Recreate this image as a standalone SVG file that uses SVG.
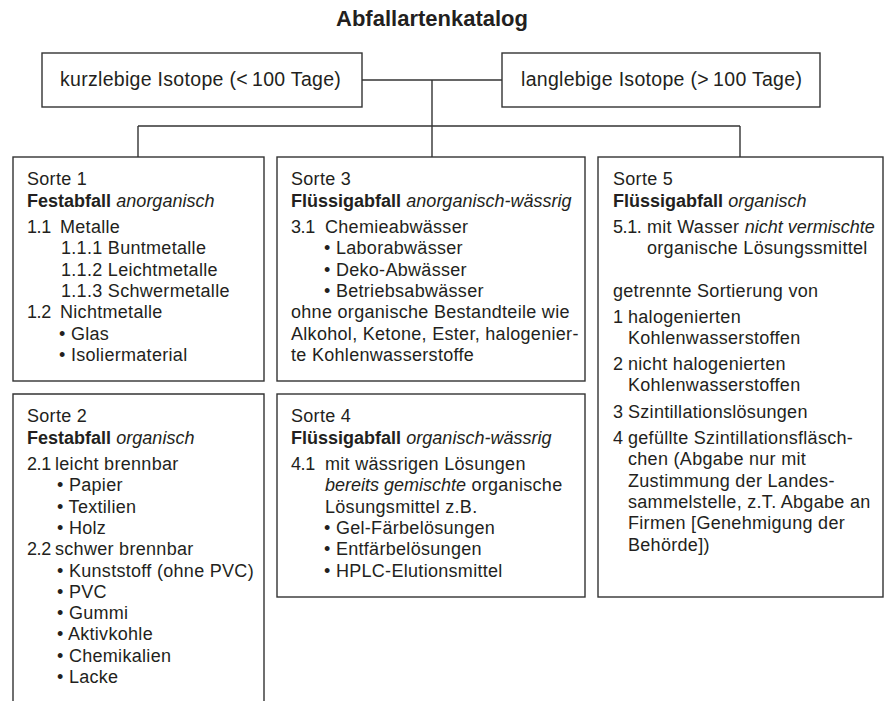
<svg xmlns="http://www.w3.org/2000/svg" width="887" height="701" viewBox="0 0 887 701">
<style>
text{font-family:"Liberation Sans",Arial,Helvetica,sans-serif;fill:#231f20;}
.t{font-size:18px;letter-spacing:0.3px;}
.h{font-size:19.5px;letter-spacing:0.3px;}
.title{font-size:22px;font-weight:bold;}
.b{font-weight:bold;letter-spacing:0;}
.i{font-style:italic;letter-spacing:0;}
.n{letter-spacing:-0.4px;}
.box{fill:#fff;stroke:#333;stroke-width:1.4;}
.open{fill:none;stroke:#333;stroke-width:1.4;}
.c{fill:none;stroke:#333;stroke-width:1.4;}
</style>
<rect width="887" height="701" fill="#fff"/>
<g id="title"><text class="title" x="432" y="25.5" text-anchor="middle">Abfallartenkatalog</text></g>
<g id="connectors">
<line class="c" x1="362" y1="80" x2="502" y2="80"/>
<line class="c" x1="432" y1="80" x2="432" y2="157"/>
<line class="c" x1="138" y1="126" x2="740" y2="126"/>
<line class="c" x1="138" y1="126" x2="138" y2="157"/>
<line class="c" x1="740" y1="126" x2="740" y2="157"/>
</g>
<g id="kurzlebig">
<rect class="box" x="42" y="53" width="320" height="54"/>
<text class="h" x="60" y="86">kurzlebige Isotope (&lt;&#8201;100 Tage)</text>
</g>
<g id="langlebig">
<rect class="box" x="502" y="53" width="318" height="54"/>
<text class="h" x="521" y="86">langlebige Isotope (&gt;&#8201;100 Tage)</text>
</g>
<g id="sorte1">
<rect class="box" x="13" y="157" width="251" height="224"/>
<text class="t"><tspan x="27" y="184.5">Sorte 1</tspan><tspan x="27" y="206.5"><tspan class="b">Festabfall</tspan> <tspan class="i">anorganisch</tspan></tspan><tspan x="27" y="233" class="n">1.1</tspan><tspan x="60" y="233">Metalle</tspan><tspan x="61" y="254.3">1.1.1 Buntmetalle</tspan><tspan x="61" y="275.6">1.1.2 Leichtmetalle</tspan><tspan x="61" y="296.9">1.1.3 Schwermetalle</tspan><tspan x="27" y="318.2" class="n">1.2</tspan><tspan x="60" y="318.2">Nichtmetalle</tspan><tspan x="59" y="339.5">• Glas</tspan><tspan x="59" y="360.8">• Isoliermaterial</tspan></text>
</g>
<g id="sorte2">
<path class="open" d="M13,701 V394 H264 V701"/>
<text class="t"><tspan x="27" y="421.7">Sorte 2</tspan><tspan x="27" y="443.5"><tspan class="b">Festabfall</tspan> <tspan class="i">organisch</tspan></tspan><tspan x="27" y="470" class="n">2.1</tspan><tspan x="55" y="470">leicht brennbar</tspan><tspan x="57" y="491.3">• Papier</tspan><tspan x="57" y="512.6">• Textilien</tspan><tspan x="57" y="533.9">• Holz</tspan><tspan x="27" y="555.2" class="n">2.2</tspan><tspan x="55" y="555.2">schwer brennbar</tspan><tspan x="57" y="576.5">• Kunststoff (ohne PVC)</tspan><tspan x="57" y="597.8">• PVC</tspan><tspan x="57" y="619.1">• Gummi</tspan><tspan x="57" y="640.4">• Aktivkohle</tspan><tspan x="57" y="661.7">• Chemikalien</tspan><tspan x="57" y="683">• Lacke</tspan></text>
</g>
<g id="sorte3">
<rect class="box" x="277" y="157" width="308" height="224"/>
<text class="t"><tspan x="291" y="184.5">Sorte 3</tspan><tspan x="291" y="206.5"><tspan class="b">Flüssigabfall</tspan> <tspan class="i">anorganisch-wässrig</tspan></tspan><tspan x="291" y="233" class="n">3.1</tspan><tspan x="325" y="233">Chemieabwässer</tspan><tspan x="324" y="254.3">• Laborabwässer</tspan><tspan x="324" y="275.6">• Deko-Abwässer</tspan><tspan x="324" y="296.9">• Betriebsabwässer</tspan><tspan x="291" y="318.2">ohne organische Bestandteile wie</tspan><tspan x="291" y="339.5">Alkohol, Ketone, Ester, halogenier-</tspan><tspan x="291" y="360.8">te Kohlenwasserstoffe</tspan></text>
</g>
<g id="sorte4">
<rect class="box" x="277" y="394" width="308" height="203"/>
<text class="t"><tspan x="291" y="421.7">Sorte 4</tspan><tspan x="291" y="443.5"><tspan class="b">Flüssigabfall</tspan> <tspan class="i">organisch-wässrig</tspan></tspan><tspan x="291" y="470" class="n">4.1</tspan><tspan x="325" y="470">mit wässrigen Lösungen</tspan><tspan x="325" y="491.3"><tspan class="i">bereits gemischte</tspan> organische</tspan><tspan x="325" y="512.6">Lösungsmittel z.B.</tspan><tspan x="324" y="533.9">• Gel-Färbelösungen</tspan><tspan x="324" y="555.2">• Entfärbelösungen</tspan><tspan x="324" y="576.5">• HPLC-Elutionsmittel</tspan></text>
</g>
<g id="sorte5">
<rect class="box" x="598" y="157" width="285" height="440"/>
<text class="t"><tspan x="613" y="184.5">Sorte 5</tspan><tspan x="613" y="206.5"><tspan class="b">Flüssigabfall</tspan> <tspan class="i">organisch</tspan></tspan><tspan x="613" y="233" class="n">5.1.</tspan><tspan x="647" y="233">mit Wasser <tspan class="i">nicht vermischte</tspan></tspan><tspan x="647" y="254.3">organische Lösungssmittel</tspan><tspan x="613" y="296.7">getrennte Sortierung von</tspan><tspan x="613" y="323">1</tspan><tspan x="628" y="323">halogenierten</tspan><tspan x="628" y="344.3">Kohlenwasserstoffen</tspan><tspan x="613" y="369.8">2</tspan><tspan x="628" y="369.8">nicht halogenierten</tspan><tspan x="628" y="391.1">Kohlenwasserstoffen</tspan><tspan x="613" y="417.5">3</tspan><tspan x="628" y="417.5">Szintillationslösungen</tspan><tspan x="613" y="444">4</tspan><tspan x="628" y="444">gefüllte Szintillationsfläsch-</tspan><tspan x="628" y="465.3">chen (Abgabe nur mit</tspan><tspan x="628" y="486.6">Zustimmung der Landes-</tspan><tspan x="628" y="507.9">sammelstelle, z.T. Abgabe an</tspan><tspan x="628" y="529.2">Firmen [Genehmigung der</tspan><tspan x="628" y="550.5">Behörde])</tspan></text>
</g>
</svg>
